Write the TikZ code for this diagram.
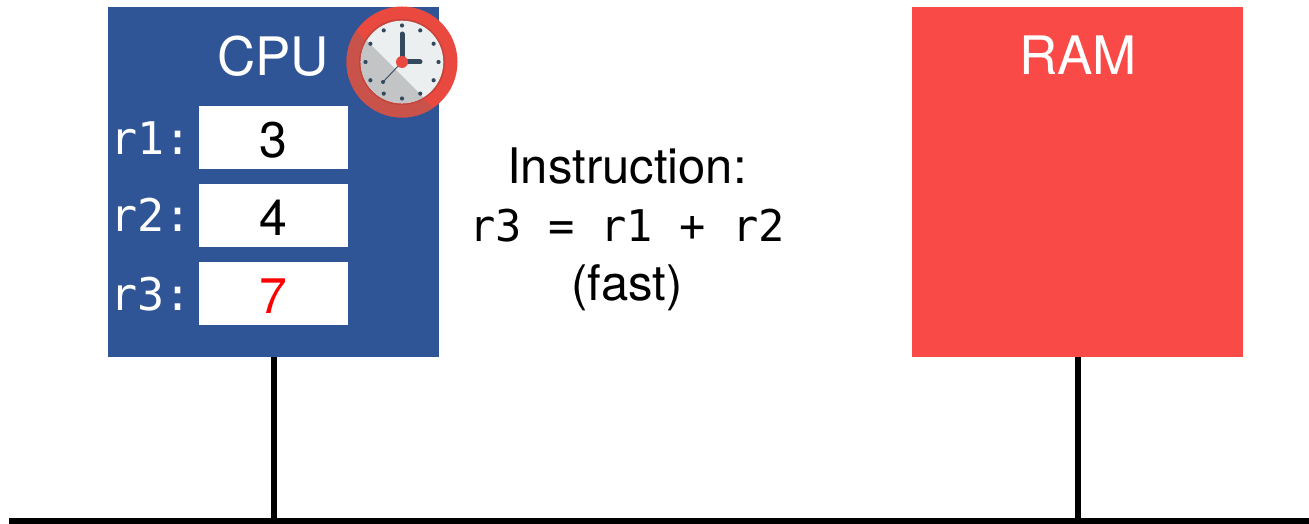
\documentclass[tikz,border=0pt]{standalone}
\usetikzlibrary{calc}
\usepackage{fontspec}
\setmainfont{TeX Gyre Heros}
\setmonofont{DejaVu Sans Mono}
\definecolor{cpublue}{HTML}{305596}
\definecolor{ramred}{HTML}{F94A47}
\definecolor{clockrim}{HTML}{E9493F}
\definecolor{clockrimdk}{HTML}{C9534A}
\definecolor{clockface}{HTML}{EBEFF0}
\definecolor{clockshade}{HTML}{C3C4C6}
\definecolor{clockring}{HTML}{C5433A}
\definecolor{clockhand}{HTML}{34495E}
\tikzset{
  x=1pt,y=-1pt,
  unit/.style={draw=none,anchor=north west,inner sep=0pt,outer sep=0pt,minimum width=331pt,minimum height=350pt},
  regbox/.style={fill=white,inner sep=0pt,outer sep=0pt,minimum width=149pt,minimum height=63pt,text height=40pt,text depth=0pt,font=\fontsize{50}{50}\selectfont},
  reglabel/.style={text=white,anchor=east,inner sep=0pt,font=\ttfamily\fontsize{45}{45}\selectfont},
  title/.style={text=white,inner sep=0pt,font=\fontsize{53}{53}\selectfont},
  bus/.style={line width=6pt,draw=black},
  caption/.style={align=center,inner sep=0pt,font=\fontsize{49}{58.5}\selectfont},
  tick/.style={fill=clockhand,draw=none},
  hand/.style={draw=clockhand,line width=5pt,line cap=round}
}
\begin{document}
\begin{tikzpicture}
\useasboundingbox (0,0) rectangle (1309,524);
\node[unit,fill=cpublue] (cpu) at (108,7) {};
\node[unit,fill=ramred] (ram) at (912,7) {};
\node[title] (cputxt) at (273,56) {CPU};
\node[title] (ramtxt) at (1078,55) {RAM};
\node[regbox] (b1) at (273.5,137.5) {3};
\node[regbox] (b2) at (273.5,215.5) {4};
\node[regbox,text=red] (b3) at (273.5,293.5) {7};
\node[reglabel] (l1) at (192,138) {r1:};
\node[reglabel] (l2) at (192,215) {r2:};
\node[reglabel] (l3) at (192,294) {r3:};
\node[caption] (ins) at (627,229) {Instruction:\\{\ttfamily\fontsize{43.7}{58.5}\selectfont r3 = r1 + r2}\\(fast)};
\coordinate (busl) at (9,521);
\coordinate (busr) at (1309,521);
\draw[bus] (busl) -- (busr);
\draw[bus] (cpu.south) -- (cpu.south |- busl);
\draw[bus] (ram.south) -- (ram.south |- busl);
% clock
\coordinate (c) at (402,62);
\fill[clockrim] (c) circle[radius=55.5];
\begin{scope}
\clip (c) circle[radius=55.5];
\fill[clockrimdk] (340,15) -- (460,135) -- (340,135) -- cycle;
\end{scope}
\fill[clockring] (c) circle[radius=43];
\fill[clockface] (c) circle[radius=41.3];
\begin{scope}
\clip (c) circle[radius=41.3];
\fill[clockshade] (340,14) -- (460,134) -- (340,134) -- cycle;
\end{scope}
\foreach \a in {0,30,...,330}{
  \fill[tick] ($(c)+(\a:36.5)$) circle[radius=2.1];
}
\draw[clockhand,line width=0.9pt] (c) -- (383,82);
\fill[tick] (383,82) circle[radius=2];
\draw[hand] (c) -- (402,34);
\draw[hand] (c) -- (420,62);
\fill[clockrim] (c) circle[radius=6];
\end{tikzpicture}
\end{document}
